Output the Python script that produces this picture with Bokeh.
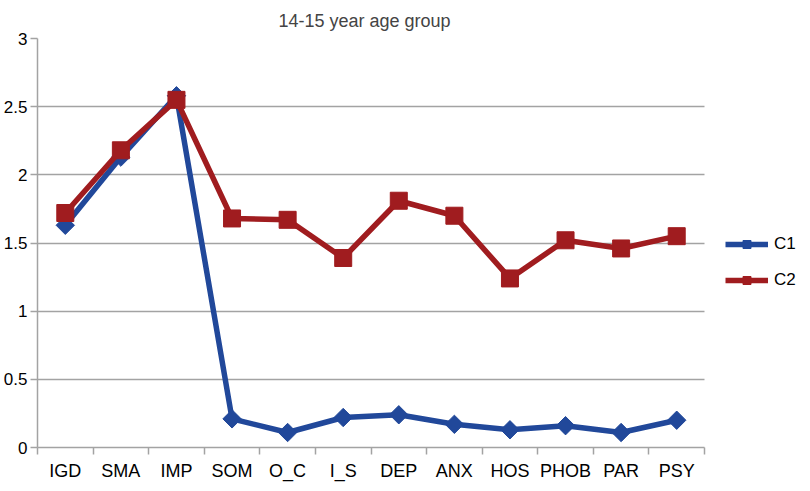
import math
from bokeh.plotting import figure
from bokeh.models import (Range1d, FixedTicker, NumeralTickFormatter, Legend,
                          LegendItem, ColumnDataSource)
from bokeh.embed import file_html
from bokeh.resources import INLINE

categories = ["IGD", "SMA", "IMP", "SOM", "O_C", "I_S", "DEP", "ANX", "HOS",
              "PHOB", "PAR", "PSY"]
c1_values = [1.63, 2.13, 2.58, 0.21, 0.11, 0.22, 0.24, 0.17, 0.13, 0.16, 0.11, 0.20]
c2_values = [1.72, 2.18, 2.55, 1.68, 1.67, 1.39, 1.81, 1.70, 1.24, 1.52, 1.46, 1.55]
y_ticks = [0, 0.5, 1, 1.5, 2, 2.5, 3]
title_text = "14-15 year age group"

FONT = "Liberation Sans"
BLUE = "#21489a"
RED = "#a01c1f"
GRID = "#a3a3a3"

n = len(categories)
idx = list(range(n))
src = ColumnDataSource(dict(x=idx, c1=c1_values, c2=c2_values))

# the frame also covers the legend area at the right; the data part spans 667 px
FRAME_W = 760
DATA_W = 667
x_end = -0.5 + n * FRAME_W / DATA_W

p = figure(frame_width=FRAME_W, frame_height=409, output_backend="svg",
           toolbar_location=None,
           x_range=Range1d(-0.5, x_end), y_range=Range1d(0, 3),
           min_border_left=34, min_border_right=0, min_border_top=38,
           min_border_bottom=28, title=title_text)
p.outline_line_color = None
p.background_fill_color = "white"
p.border_fill_color = "white"

p.title.text_font = FONT
p.title.text_font_size = "18px"
p.title.text_font_style = "normal"
p.title.align = "left"
p.title.offset = 241
p.title.standoff = 16

# x axis
p.xaxis.bounds = (-0.5, n - 0.5)
p.xaxis.ticker = FixedTicker(ticks=idx, minor_ticks=[i - 0.5 for i in range(n + 1)])
p.xaxis.major_label_overrides = {i: c for i, c in enumerate(categories)}
p.xaxis.major_tick_line_color = None
p.xaxis.major_tick_out = 0
p.xaxis.major_tick_in = 0
p.xaxis.minor_tick_out = 7
p.xaxis.minor_tick_in = 0
p.xaxis.minor_tick_line_color = GRID
p.xaxis.minor_tick_line_width = 1.5
p.xaxis.axis_line_color = GRID
p.xaxis.axis_line_width = 1.5
p.xaxis.major_label_standoff = 6
p.xaxis.major_label_text_font = FONT
p.xaxis.major_label_text_font_size = "18px"
p.xaxis.major_label_text_color = "black"

# y axis
p.yaxis.ticker = FixedTicker(ticks=y_ticks)
p.yaxis.formatter = NumeralTickFormatter(format="0.[0]")
p.yaxis.major_tick_out = 7
p.yaxis.major_tick_in = 0
p.yaxis.major_tick_line_color = GRID
p.yaxis.major_tick_line_width = 1.5
p.yaxis.minor_tick_line_color = None
p.yaxis.axis_line_color = GRID
p.yaxis.axis_line_width = 1.5
p.yaxis.major_label_standoff = 3
p.yaxis.major_label_text_font = FONT
p.yaxis.major_label_text_font_size = "17px"
p.yaxis.major_label_text_color = "black"

p.xgrid.grid_line_color = None
grid_ok = True
try:
    p.ygrid.cross_bounds = (-0.5, n - 0.5)
    p.ygrid.grid_line_color = GRID
    p.ygrid.grid_line_width = 1.5
except Exception:
    grid_ok = False
if not grid_ok:
    p.ygrid.grid_line_color = None
    p.segment(x0=[-0.5] * len(y_ticks), x1=[n - 0.5] * len(y_ticks),
              y0=y_ticks, y1=y_ticks, line_color=GRID, line_width=1.5)

l1 = p.line(x="x", y="c1", source=src, line_color=BLUE, line_width=5.5)
m1 = p.scatter(x="x", y="c1", source=src, marker="square", angle=math.pi / 4,
               size=13, fill_color=BLUE, line_color=BLUE)
l2 = p.line(x="x", y="c2", source=src, line_color=RED, line_width=5.5)
m2 = p.scatter(x="x", y="c2", source=src, marker="square", size=17,
               fill_color=RED, line_color=RED)

legend = Legend(items=[LegendItem(label="C1", renderers=[l1, m1]),
                       LegendItem(label="C2", renderers=[l2, m2])],
                location=(688, 157), orientation="vertical")
legend.border_line_color = None
legend.background_fill_alpha = 0
legend.padding = 0
legend.margin = 0
legend.spacing = 16
legend.glyph_width = 43
legend.glyph_height = 20
legend.label_height = 20
legend.label_standoff = 6
legend.label_text_font = FONT
legend.label_text_font_size = "17px"
legend.label_text_color = "black"
p.add_layout(legend)

open("out.html", "w").write(file_html(p, INLINE))
